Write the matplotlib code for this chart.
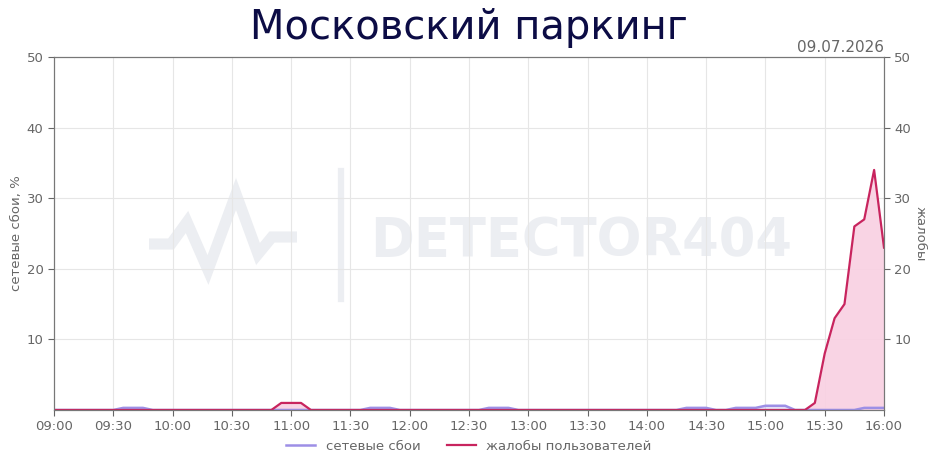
import matplotlib.pyplot as plt
import numpy as np

title = "Московский паркинг"
date_label = "09.07.2026"
left_label = "сетевые сбои, %"
right_label = "жалобы"
series_names = ["сетевые сбои", "жалобы пользователей"]

# minutes after 09:00, one point every 5 minutes
minutes = np.arange(0, 421, 5)
tick_minutes = np.arange(0, 421, 30)
tick_labels = ["09:00", "09:30", "10:00", "10:30", "11:00", "11:30", "12:00", "12:30",
               "13:00", "13:30", "14:00", "14:30", "15:00", "15:30", "16:00"]

network = ([0, 0, 0, 0, 0, 0, 0, 0.3, 0.3, 0.3, 0, 0] +
           [0] * 12 +
           [0, 0, 0, 0, 0, 0, 0, 0, 0.3, 0.3, 0.3, 0] +
           [0, 0, 0, 0, 0, 0, 0, 0, 0.3, 0.3, 0.3, 0] +
           [0] * 12 +
           [0, 0, 0, 0, 0.3, 0.3, 0.3, 0, 0, 0.3, 0.3, 0.3] +
           [0.6, 0.6, 0.6, 0, 0, 0, 0, 0, 0, 0, 0.3, 0.3] +
           [0.3])

complaints = ([0] * 12 +
              [0, 0, 0, 0, 0, 0, 0, 0, 0, 0, 0, 1] +
              [1, 1, 0, 0, 0, 0, 0, 0, 0, 0, 0, 0] +
              [0] * 12 +
              [0] * 12 +
              [0] * 12 +
              [0, 0, 0, 0, 0, 1, 8, 13, 15, 26, 27, 34] +
              [23])

purple = "#9d8fe6"
red = "#c8245e"
grey = "#666666"

fig = plt.figure(figsize=(9.38, 4.68), dpi=100)

# watermark layer in figure pixels
wm = fig.add_axes([0, 0, 1, 1], zorder=0)
wm.set_xlim(0, 938)
wm.set_ylim(468, 0)
wm.axis("off")
wm_color = "#eceef2"
wm.plot([149, 171, 187, 208, 236, 258, 272, 297], [244, 244, 222, 270, 194, 254, 237, 237],
        color=wm_color, lw=8, solid_joinstyle="miter", solid_capstyle="butt")
wm.plot([341, 341], [171, 299], color=wm_color, lw=4.5)
wm.text(581, 241, "DETECTOR404", color=wm_color, fontsize=38, fontweight="bold",
        ha="center", va="center")

ax = fig.add_axes([54 / 938, 1 - 410 / 468, 830 / 938, 353 / 468], zorder=1)
ax.patch.set_alpha(0)
ax2 = ax.twinx()

ax.fill_between(minutes, network, 0, color=purple, alpha=0.25, lw=0)
ax.fill_between(minutes, complaints, 0, color="#f9d0e2", alpha=0.9, lw=0)
l1, = ax.plot(minutes, network, color=purple, lw=1.8)
l2, = ax.plot(minutes, complaints, color=red, lw=1.6)

for a in (ax, ax2):
    a.set_ylim(0, 50)
    a.set_yticks([10, 20, 30, 40, 50])
    a.tick_params(colors=grey, labelsize=9.5, length=4)
    for s in a.spines.values():
        s.set_color("#777777")
ax.set_xlim(0, 420)
ax.set_xticks(tick_minutes)
ax.set_xticklabels(tick_labels)
ax.grid(True, color="#e6e6e6", lw=0.8)
ax.set_axisbelow(True)

ax.set_ylabel(left_label, color=grey, fontsize=9.5, labelpad=2.5)
ax2.set_ylabel(right_label, color=grey, fontsize=9.5, rotation=270, labelpad=11)

fig.text(0.5, 1 - 28 / 468, title, ha="center", va="center", fontsize=28.8, color="#0c0c45")
fig.text(884 / 938, 1 - 48 / 468, date_label, ha="right", va="center", fontsize=11, color=grey)

fig.legend([l1, l2], series_names, loc="center", bbox_to_anchor=(0.5, 1 - 446 / 468),
           ncol=2, frameon=False, fontsize=9.5, labelcolor=grey, handlelength=2.2,
           columnspacing=2.0)

fig.savefig("out.png", dpi=100)
